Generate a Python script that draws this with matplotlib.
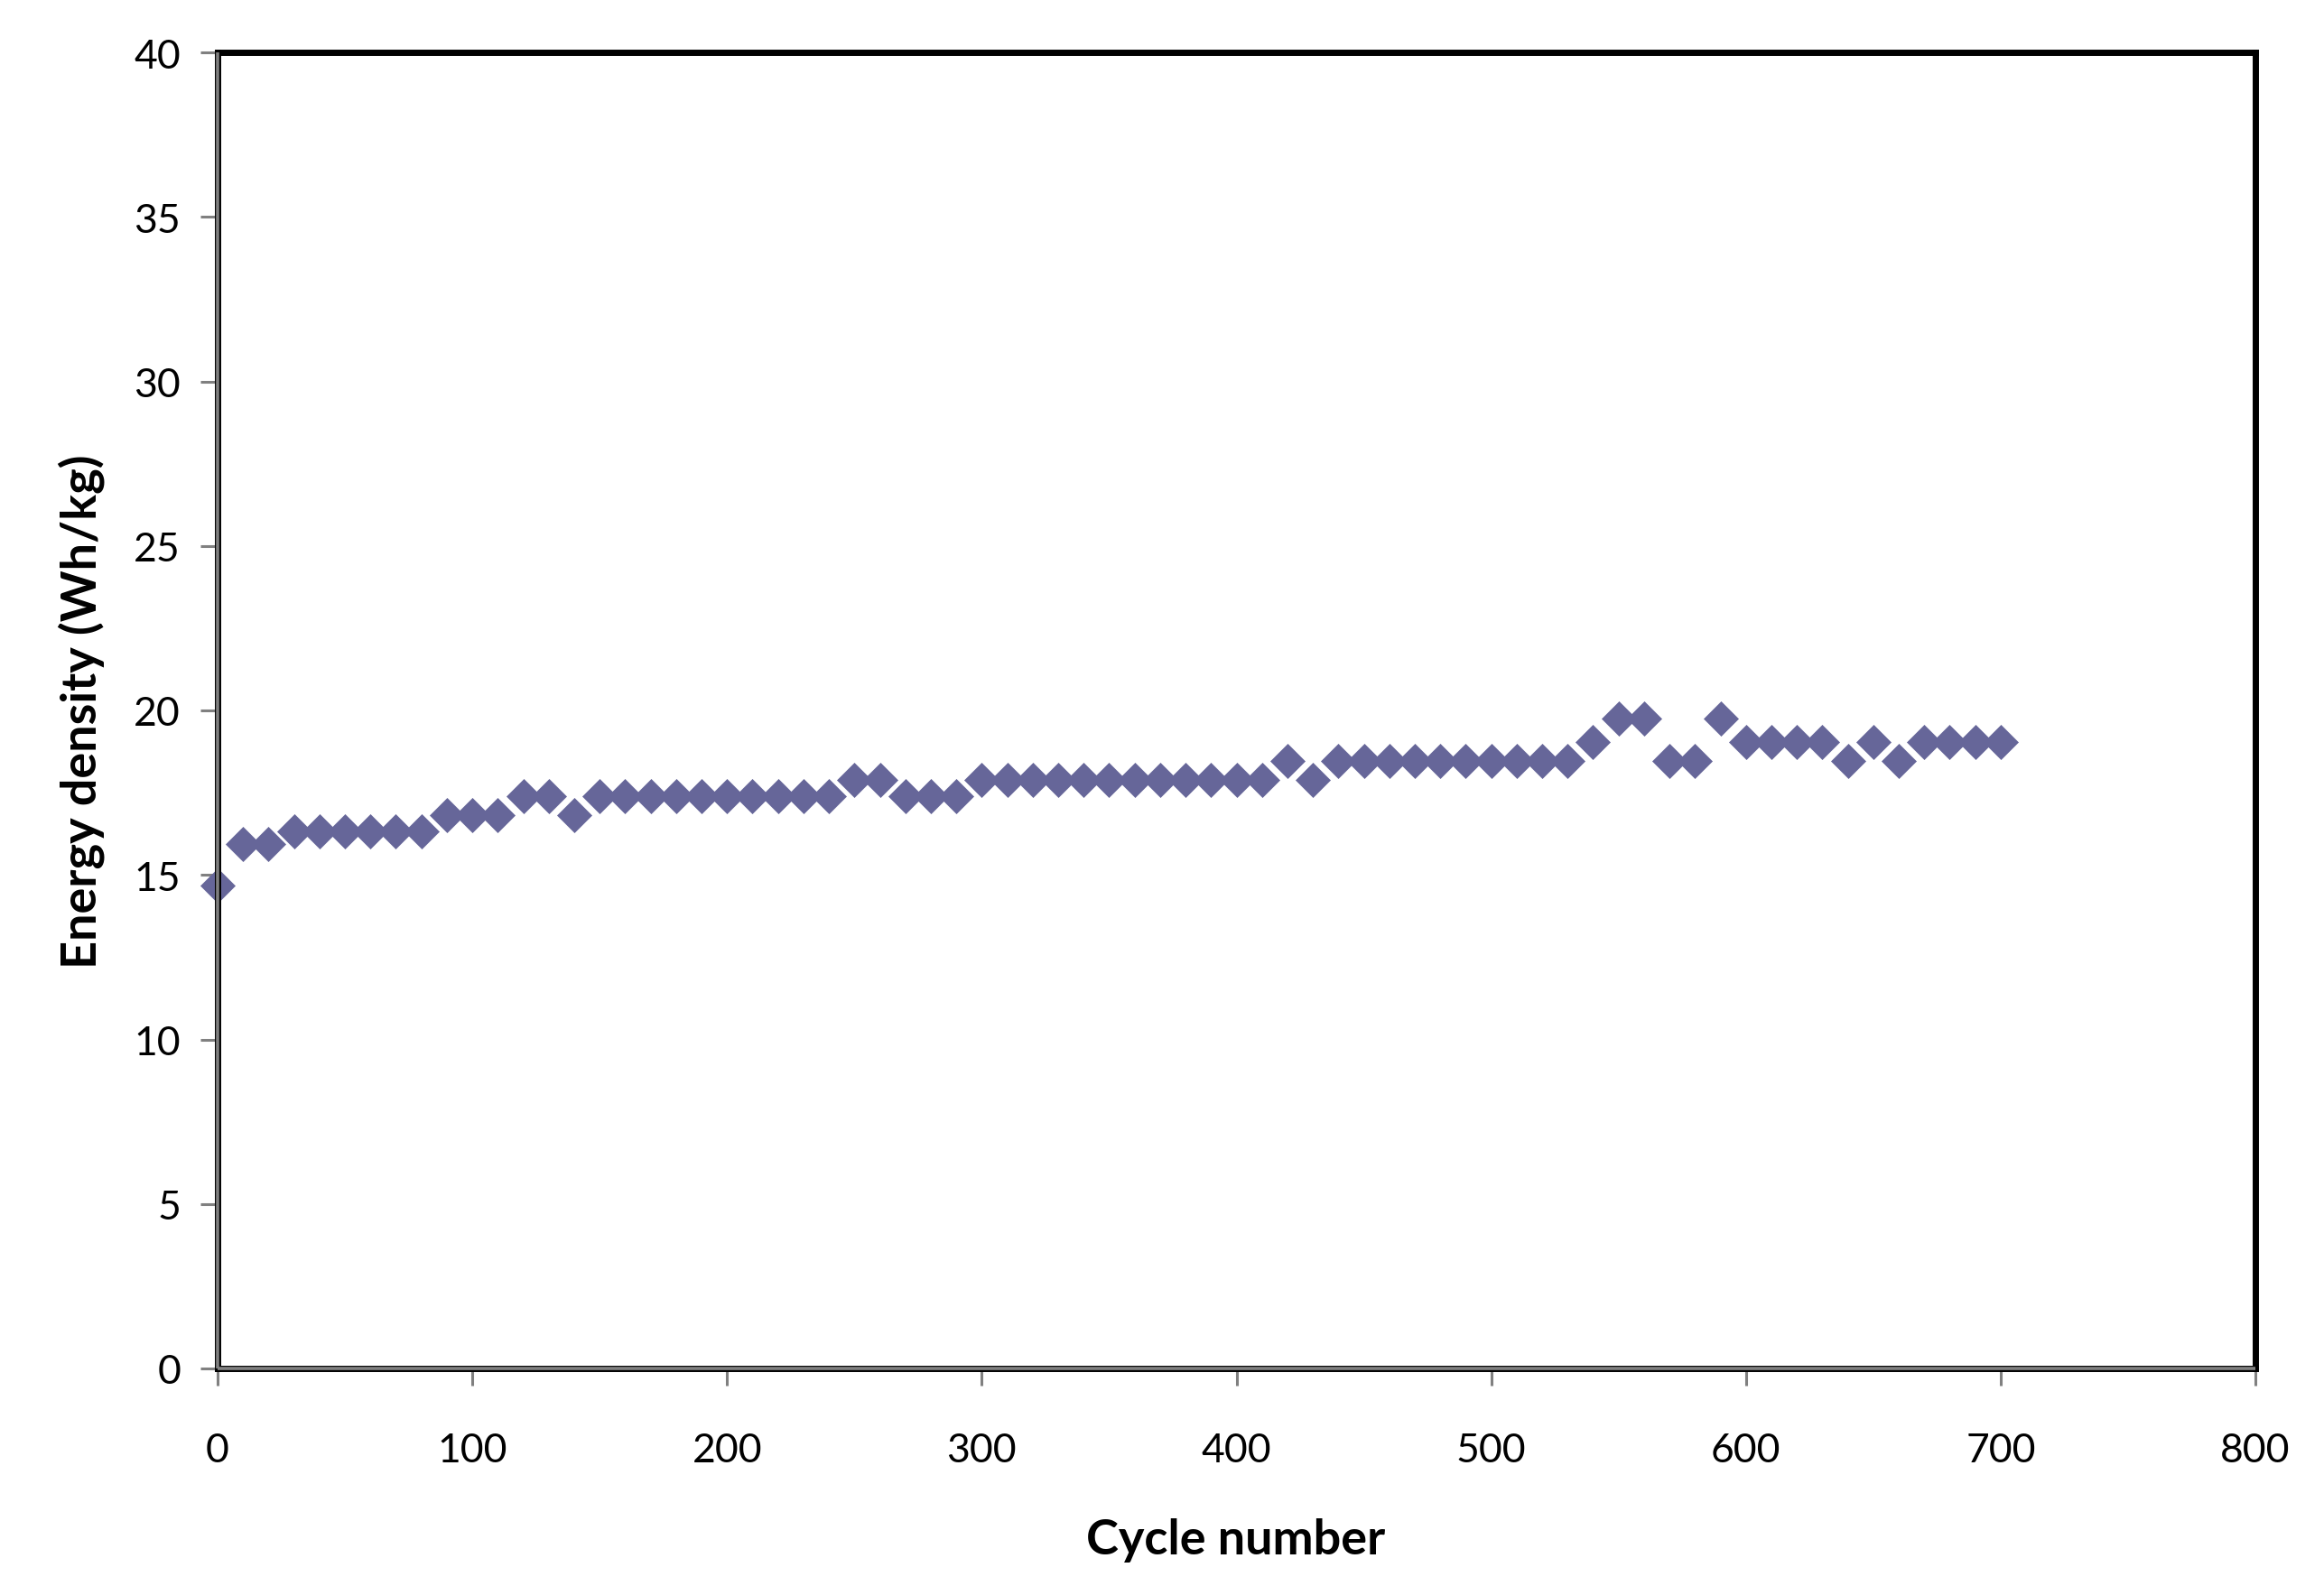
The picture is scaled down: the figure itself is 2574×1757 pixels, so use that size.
import matplotlib
matplotlib.use("Agg")
import matplotlib.pyplot as plt

plt.rcParams['font.family'] = ['Lato', 'DejaVu Sans']

cycles = [0, 10, 20, 30, 40, 50, 60, 70, 80, 90, 100, 110, 120, 130, 140, 150,
          160, 170, 180, 190, 200, 210, 220, 230, 240, 250, 260, 270, 280, 290,
          300, 310, 320, 330, 340, 350, 360, 370, 380, 390, 400, 410, 420, 430,
          440, 450, 460, 470, 480, 490, 500, 510, 520, 530, 540, 550, 560, 570,
          580, 590, 600, 610, 620, 630, 640, 650, 660, 670, 680, 690, 700]
energy_density = [14.68, 15.94, 15.94, 16.32, 16.32, 16.32, 16.32, 16.32, 16.32,
                  16.81, 16.81, 16.81, 17.40, 17.40, 16.81, 17.40,
                  17.40, 17.40, 17.40, 17.40, 17.40, 17.40, 17.40, 17.40, 17.40,
                  17.88, 17.88, 17.40, 17.40, 17.40,
                  17.88, 17.88, 17.88, 17.88, 17.88, 17.88, 17.88, 17.88, 17.88,
                  17.88, 17.88, 17.88, 18.47, 17.88,
                  18.47, 18.47, 18.47, 18.47, 18.47, 18.47, 18.47, 18.47, 18.47,
                  18.47, 19.05, 19.74, 19.74, 18.47,
                  18.47, 19.74, 19.05, 19.05, 19.05, 19.05, 18.47, 19.05, 18.47,
                  19.05, 19.05, 19.05, 19.05]

x_ticks = [0, 100, 200, 300, 400, 500, 600, 700, 800]
y_ticks = [0, 5, 10, 15, 20, 25, 30, 35, 40]

W, H, DPI = 2574, 1758, 100
fig = plt.figure(figsize=(W / DPI, H / DPI), dpi=DPI)
fig.patch.set_facecolor('white')

L, R, T, B = 241, 2498, 59, 1517
ax = fig.add_axes([L / W, 1 - B / H, (R - L) / W, (B - T) / H])

ax.plot(cycles, energy_density, linestyle='none', marker='D', markersize=19,
        color='#666699', markeredgecolor='#666699', markeredgewidth=0.5,
        clip_on=False, zorder=3)

ax.set_xlim(0, 800)
ax.set_ylim(0, 40)
ax.set_xticks(x_ticks)
ax.set_yticks(y_ticks)
ax.set_xticklabels([str(v) for v in x_ticks])
ax.set_yticklabels([str(v) for v in y_ticks])

# plot-area border: black all around
for side in ['top', 'right', 'left', 'bottom']:
    ax.spines[side].set_color('black')
    ax.spines[side].set_linewidth(5.0)
    ax.spines[side].set_zorder(4)
# gray axis lines over the left and bottom border
ax.plot([0, 0], [0, 1], transform=ax.transAxes, color='#808080', lw=2.6,
        clip_on=False, zorder=5, solid_capstyle='butt')
ax.plot([0, 1], [0, 0], transform=ax.transAxes, color='#808080', lw=2.6,
        clip_on=False, zorder=5, solid_capstyle='butt')

ax.tick_params(axis='both', direction='out', length=13.5, width=2.2,
               color='#808080', labelsize=32, labelcolor='black')
ax.tick_params(axis='y', pad=16)
ax.tick_params(axis='x', pad=37)

fig.text(90 / W, 1 - 788 / H, 'Energy density (Wh/kg)', rotation=90,
         ha='center', va='center', fontsize=39, fontweight='bold')
fig.text(1369 / W, 1 - 1707 / H, 'Cycle number', ha='center', va='center',
         fontsize=39, fontweight='bold')

fig.savefig('out.png', dpi=DPI, facecolor='white')
